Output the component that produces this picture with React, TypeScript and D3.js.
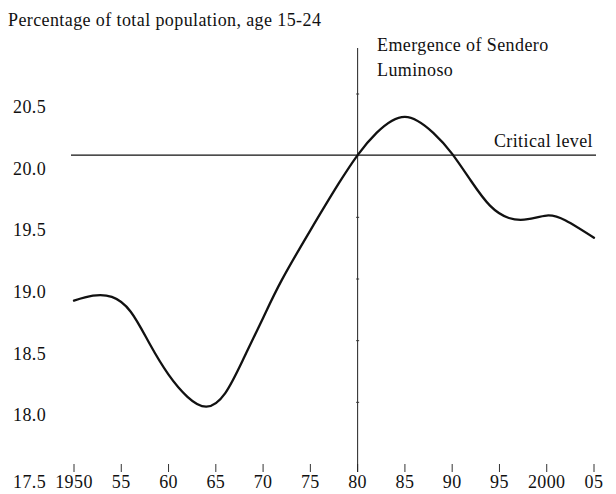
import React from "react";
import * as d3 from "d3";

const years = [1950, 1952, 1954, 1956, 1958, 1960, 1962, 1964, 1966, 1968, 1970, 1972, 1975, 1978, 1980, 1982, 1985, 1988, 1990, 1992, 1994, 1996, 1998, 2000, 2002, 2005];
const values = [18.93, 18.97, 18.96, 18.84, 18.58, 18.33, 18.15, 18.07, 18.18, 18.47, 18.79, 19.1, 19.5, 19.88, 20.11, 20.29, 20.42, 20.29, 20.12, 19.9, 19.7, 19.6, 19.59, 19.62, 19.58, 19.44];
const xTicks = [1950, 1955, 1960, 1965, 1970, 1975, 1980, 1985, 1990, 1995, 2000, 2005];
const xTickLabels = ["1950", "55", "60", "65", "70", "75", "80", "85", "90", "95", "2000", "05"];
const yTicks = [20.5, 20.0, 19.5, 19.0, 18.5, 18.0, 17.5];
const criticalLevel = 20.11;
const emergenceYear = 1980;

function T({ x, y, children, anchor = "start" }: any) {
  return (
    <text x={x} y={y} textAnchor={anchor} fontFamily="Liberation Serif" fontSize={18} letterSpacing={0.4} fill="#111">
      {children}
    </text>
  );
}

export default function App() {
  const W = 616, H = 494;
  const x = d3.scaleLinear().domain([1950, 2005]).range([74, 594]);
  const y = d3.scaleLinear().domain([20.5, 17.5]).range([107, 477]);
  const line = d3
    .line<number>()
    .x((_, i) => x(years[i]))
    .y((d) => y(d))
    .curve(d3.curveNatural);
  const base = y(17.5) - 5;
  const labelY = y(17.5) + 11;
  return (
    <svg width={W} height={H} style={{ position: "absolute", left: 0, top: 0, background: "#fff" }}>
      <rect width={W} height={H} fill="#fff" />
      <T x={8} y={26}>Percentage of total population, age 15-24</T>
      <T x={377} y={51}>Emergence of Sendero</T>
      <T x={377} y={76}>Luminoso</T>
      <T x={593} y={y(criticalLevel) - 8} anchor="end">Critical level</T>
      {yTicks.map((t) => (
        <T key={t} x={13} y={t === 17.5 ? labelY : y(t) + 6}>{t.toFixed(1)}</T>
      ))}
      {xTicks.map((t, i) => (
        <g key={t}>
          <line x1={x(t)} x2={x(t)} y1={base - 8} y2={base} stroke="#333" strokeWidth={1} />
          <T x={x(t)} y={labelY} anchor="middle">{xTickLabels[i]}</T>
        </g>
      ))}
      <line x1={71} x2={596} y1={y(criticalLevel)} y2={y(criticalLevel)} stroke="#111" strokeWidth={1.3} />
      <line x1={x(emergenceYear)} x2={x(emergenceYear)} y1={48} y2={base} stroke="#222" strokeWidth={1} />
      {[20.5, 20.0, 19.5, 19.0, 18.5, 18.0].map((t) => (
        <line key={"m" + t} x1={x(emergenceYear) - 1.5} x2={x(emergenceYear) + 1.5} y1={y(t) - 13} y2={y(t) - 13} stroke="#333" strokeWidth={1} />
      ))}
      <path d={line(values) || ""} fill="none" stroke="#111" strokeWidth={2.3} strokeLinecap="round" />
    </svg>
  );
}
